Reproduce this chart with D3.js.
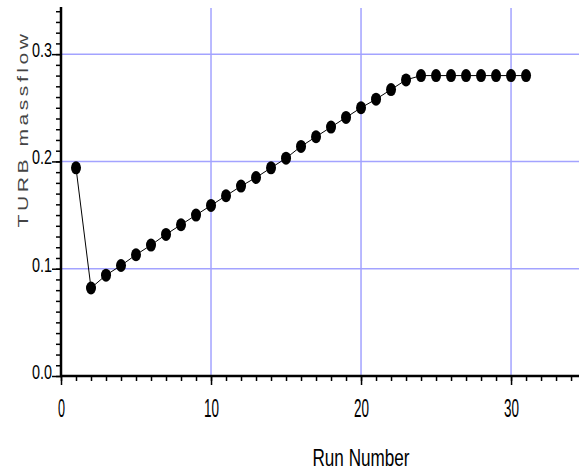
<!DOCTYPE html>
<html>
<head>
<meta charset="utf-8">
<script src="https://cdn.jsdelivr.net/npm/d3@7"></script>
<style>
  body { margin: 0; background: #fff; }
  .tk text { font-family: "Liberation Sans", Arial, sans-serif; }
</style>
</head>
<body>
<div id="chartArea"></div>
<script>
// data
const runs = d3.range(1, 32);
const massflow = [0.194, 0.082, 0.094, 0.103, 0.113, 0.122, 0.132, 0.141, 0.150, 0.159,
  0.168, 0.177, 0.185, 0.194, 0.203, 0.214, 0.223, 0.232, 0.241, 0.250,
  0.258, 0.267, 0.276, 0.280, 0.280, 0.280, 0.280, 0.280, 0.280, 0.280, 0.280];
const xMajor = [0, 10, 20, 30];
const yMajor = [0.0, 0.1, 0.2, 0.3];
const yLabels = ["0.0", "0.1", "0.2", "0.3"];

const W = 579, H = 474;
gridCol = "#a3a3ff";

const svg = d3.select("#chartArea").append("svg")
  .attr("width", W)
  .attr("height", H);

const x = d3.scaleLinear().domain([0, 34.53]).range([61, 579]);
const y = d3.scaleLinear().domain([0, 0.343]).range([376, 8]);

// grid
svg.selectAll("line.hg").data(yMajor.slice(1)).enter().append("line")
  .attr("x1", 61).attr("x2", W)
  .attr("y1", d => y(d)).attr("y2", d => y(d))
  .attr("stroke", gridCol).attr("stroke-width", 1.5);
svg.selectAll("line.vg").data(xMajor.slice(1)).enter().append("line")
  .attr("x1", d => x(d)).attr("x2", d => x(d))
  .attr("y1", 8).attr("y2", 376)
  .attr("stroke", gridCol).attr("stroke-width", 1.5);

// minor ticks
svg.append("g").attr("class", "tk")
  .attr("transform", "translate(61,0)")
  .call(d3.axisLeft(y).tickValues(d3.range(0, 0.345, 0.01)).tickSize(5).tickFormat(""))
  .call(g => g.selectAll("line").attr("stroke-width", 1.5))
  .call(g => g.select(".domain").remove());
svg.append("g").attr("class", "tk")
  .attr("transform", "translate(0,376)")
  .call(d3.axisBottom(x).tickValues(d3.range(0, 35, 1)).tickSize(5).tickFormat(""))
  .call(g => g.selectAll("line").attr("stroke-width", 1.5))
  .call(g => g.select(".domain").remove());

// major ticks + labels (narrow, tall digits)
svg.append("g").attr("class", "tk")
  .attr("transform", "translate(61,0)")
  .call(d3.axisLeft(y).tickValues(yMajor).tickSize(9).tickPadding(0).tickFormat((d, i) => yLabels[i]))
  .call(g => g.selectAll("line").attr("stroke-width", 1.5))
  .call(g => g.selectAll("text")
    .attr("font-size", 21).attr("fill", "#000")
    .attr("dy", "0.12em")
    .attr("textLength", 20)
    .attr("lengthAdjust", "spacingAndGlyphs"))
  .call(g => g.select(".domain").remove());
svg.append("g").attr("class", "tk")
  .attr("transform", "translate(0,376)")
  .call(d3.axisBottom(x).tickValues(xMajor).tickSize(9).tickPadding(14).tickFormat(d3.format("d")))
  .call(g => g.selectAll("line").attr("stroke-width", 1.5))
  .call(g => g.selectAll("text")
    .attr("font-size", 25).attr("fill", "#000")
    .attr("textLength", d => d === 0 ? 7 : 15)
    .attr("lengthAdjust", "spacingAndGlyphs"))
  .call(g => g.select(".domain").remove());

// axis lines
svg.append("line").attr("x1", 61).attr("x2", 61).attr("y1", 7).attr("y2", 377)
  .attr("stroke", "#000").attr("stroke-width", 2.5);
svg.append("line").attr("x1", 60).attr("x2", W).attr("y1", 376).attr("y2", 376)
  .attr("stroke", "#000").attr("stroke-width", 2.5);

// series
const line = d3.line().x((d, i) => x(runs[i])).y(d => y(d));
svg.append("path").datum(massflow)
  .attr("d", line)
  .attr("fill", "none")
  .attr("stroke", "#000")
  .attr("stroke-width", 1);
svg.selectAll("ellipse.pt").data(massflow).enter().append("ellipse")
  .attr("cx", (d, i) => x(runs[i]))
  .attr("cy", d => y(d))
  .attr("rx", 5)
  .attr("ry", 6.5)
  .attr("fill", "#000");

// axis titles
svg.append("text")
  .attr("x", 361).attr("y", 466)
  .attr("text-anchor", "middle")
  .attr("font-family", "Liberation Sans, Arial, sans-serif")
  .attr("font-size", 24)
  .attr("textLength", 97)
  .attr("lengthAdjust", "spacingAndGlyphs")
  .text("Run Number");
svg.append("text")
  .attr("transform", "translate(28,129) rotate(-90)")
  .attr("text-anchor", "middle")
  .attr("font-family", "Liberation Sans, Arial, sans-serif")
  .attr("font-size", 15)
  .attr("letter-spacing", 2.5)
  .attr("textLength", 197)
  .attr("lengthAdjust", "spacingAndGlyphs")
  .attr("fill", "#444")
  .text("TURB massflow");
</script>
</body>
</html>
